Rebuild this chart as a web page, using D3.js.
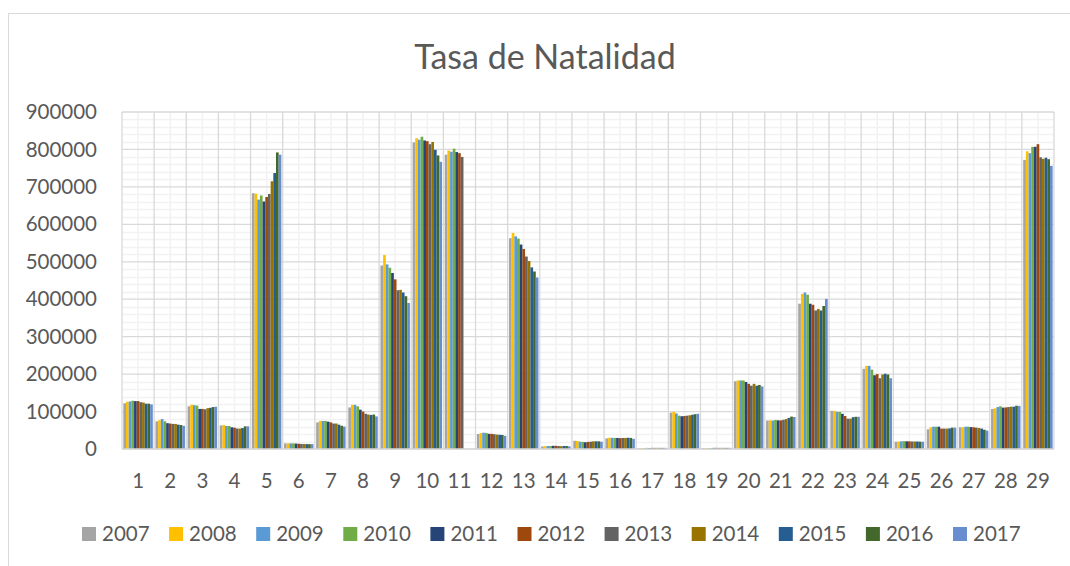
<!DOCTYPE html>
<meta charset="utf-8">
<head>
  <title>Tasa de Natalidad</title>
  <script type="text/javascript" src="https://cdn.jsdelivr.net/npm/d3@7/dist/d3.min.js"></script>
  <style>
    body {margin: 0; background: white;}
    text {font-family: Lato, "Open Sans", sans-serif; fill: #595959;}
  </style>
</head>
<body>
<div id="chart"></div>
<script>

// categories and years
var categories = d3.range(1, 30).map(String);
var years = ["2007","2008","2009","2010","2011","2012","2013","2014","2015","2016","2017"];
var colors = ["#A5A5A5","#FFC000","#5B9BD5","#70AD47","#264478","#9E480E","#636363","#997300","#255E91","#43682B","#698ED0"];
var yTicks = [0,100000,200000,300000,400000,500000,600000,700000,800000,900000];

// values per year (one per category)
var v2007 = [122000,74000,114000,63000,683000,15000,71000,111000,490000,819000,786000,40000,563000,7000,22000,28500,2000,97000,2500,181000,76000,388000,102000,214000,19500,52500,58000,107000,772000];
var v2008 = [126000,77000,118000,64000,682000,15000,75000,118000,518000,830000,797000,42500,577000,7500,21500,30000,2000,99000,2500,183000,76500,414000,102000,222000,20000,58000,58000,108500,795000];
var v2009 = [127000,80000,117000,61500,666000,15000,75000,118000,493000,826000,794000,43500,568000,8000,19500,30000,2500,95000,2500,183000,76000,418000,99000,222000,20500,59500,59500,112000,790000];
var v2010 = [129000,74000,116000,61500,677000,15000,75000,114000,484000,834000,802000,43000,562000,8000,19000,29500,3000,89000,2500,183000,77500,412000,99000,212000,21000,59500,59500,114000,807000];
var v2011 = [128000,69000,107000,58000,661000,14500,73000,105000,470000,824000,793000,40500,546000,8500,18000,29500,2500,87500,3000,179000,76500,388000,94000,197000,20500,59500,58500,110500,807000];
var v2012 = [128000,68000,107000,57000,673000,14000,71000,100000,453000,822000,790000,40500,534000,8500,19000,29000,3000,88000,3000,174000,76500,385000,88000,200000,20500,54500,58000,111000,814000];
var v2013 = [125000,67000,106000,54500,681000,13500,68000,94000,424000,814000,780000,39500,514000,8000,19500,29500,3000,89000,3000,169000,78000,370000,81000,189000,20000,54500,57000,112000,779000];
var v2014 = [124000,67000,109000,54500,715000,13500,68000,92000,425000,820000,0,38500,502000,7500,20500,29500,3000,90000,3000,174000,80000,374000,81000,199000,20000,54500,56000,113000,775000];
var v2015 = [121000,65000,110000,56000,737000,13000,65000,91000,418000,799000,0,38000,485000,8000,20500,30000,3000,91500,3000,169000,83000,370000,85000,201000,20000,55000,54500,113000,778000];
var v2016 = [121000,64000,112000,60500,792000,13000,62000,92000,408000,784000,0,37500,474000,8000,20500,29500,3000,93000,3000,171000,86500,382000,86000,199000,19500,57000,51500,115500,774000];
var v2017 = [119000,62000,113000,60500,786000,13000,60000,87000,390000,767000,0,35000,458000,7000,19500,27000,3000,94000,3000,167000,85500,401000,86000,189000,19500,57000,49000,115000,756000];

var seriesValues = [v2007,v2008,v2009,v2010,v2011,v2012,v2013,v2014,v2015,v2016,v2017];

// build rows for drawing
var rows = [];
years.forEach(function(y, i){
    categories.forEach(function(c, j){
        rows.push({year: y, cat: c, value: seriesValues[i][j], color: colors[i]});
    });
});

var width = 1070, height = 566;
var plot = {left: 122, right: 1054, top: 112, bottom: 449};

var svg = d3.select("#chart").append("svg")
    .attr("width", width)
    .attr("height", height);

svg.append("rect").attr("width", width).attr("height", height).attr("fill", "white");

// chart frame (runs off to the right and bottom)
svg.append("rect")
    .attr("x", 8.5).attr("y", 13.5)
    .attr("width", width + 20).attr("height", height + 20)
    .attr("fill", "none")
    .attr("stroke", "#d9d9d9")
    .attr("stroke-width", 1);

// title
svg.append("text")
    .attr("x", 545)
    .attr("y", 69)
    .attr("text-anchor", "middle")
    .style("font-size", "34px")
    .text("Tasa de Natalidad");

// scales
var x0 = d3.scaleBand().domain(categories).range([plot.left, plot.right]).padding(0);
var x1 = d3.scaleBand().domain(years).range([0, x0.bandwidth()]).paddingInner(0).paddingOuter(0.5);
var y = d3.scaleLinear().domain([0, 900000]).range([plot.bottom, plot.top]);

// minor horizontal gridlines
svg.append("g").selectAll("line")
    .data(d3.range(20000, 900000, 20000).filter(function(d){ return d % 100000 != 0; }))
    .enter().append("line")
    .attr("x1", plot.left).attr("x2", plot.right)
    .attr("y1", function(d){ return Math.round(y(d)) + 0.5; })
    .attr("y2", function(d){ return Math.round(y(d)) + 0.5; })
    .attr("stroke", "#f2f2f2").attr("stroke-width", 1.5);

// minor vertical gridlines (category centres)
svg.append("g").selectAll("line")
    .data(categories)
    .enter().append("line")
    .attr("x1", function(d){ return x0(d) + x0.bandwidth()/2; })
    .attr("x2", function(d){ return x0(d) + x0.bandwidth()/2; })
    .attr("y1", plot.top).attr("y2", plot.bottom)
    .attr("stroke", "#f2f2f2").attr("stroke-width", 1.5);

// major horizontal gridlines
svg.append("g").selectAll("line")
    .data(yTicks)
    .enter().append("line")
    .attr("x1", plot.left).attr("x2", plot.right)
    .attr("y1", function(d){ return y(d); })
    .attr("y2", function(d){ return y(d); })
    .attr("stroke", "#d9d9d9").attr("stroke-width", 1.3);

// major vertical gridlines (category boundaries)
svg.append("g").selectAll("line")
    .data(categories.concat(["end"]))
    .enter().append("line")
    .attr("x1", function(d){ return d == "end" ? plot.right : x0(d); })
    .attr("x2", function(d){ return d == "end" ? plot.right : x0(d); })
    .attr("y1", plot.top).attr("y2", plot.bottom)
    .attr("stroke", "#d9d9d9").attr("stroke-width", 1.3);

// bars
svg.append("g").selectAll("rect")
    .data(rows.filter(function(d){ return d.value > 0; }))
    .enter().append("rect")
    .attr("x", function(d){ return x0(d.cat) + x1(d.year); })
    .attr("width", x1.bandwidth())
    .attr("y", function(d){ return y(d.value); })
    .attr("height", function(d){ return y(0) - y(d.value); })
    .attr("fill", function(d){ return d.color; });

// baseline
svg.append("line")
    .attr("x1", plot.left).attr("x2", plot.right)
    .attr("y1", y(0)).attr("y2", y(0))
    .attr("stroke", "#d9d9d9").attr("stroke-width", 1.5);

// y axis labels
var yAxis = d3.axisLeft(y).tickValues(yTicks).tickFormat(d3.format("d")).tickSize(0).tickPadding(0);
var gy = svg.append("g")
    .attr("transform", "translate(" + (plot.left - 25) + ",0)")
    .call(yAxis);
gy.select(".domain").remove();
gy.selectAll("text").style("font-size", "20.5px").style("font-family", "Lato").attr("fill", "#595959");

// x axis labels
var xAxis = d3.axisBottom(x0).tickSize(0).tickPadding(0);
var gx = svg.append("g")
    .attr("transform", "translate(0," + (plot.bottom + 24) + ")")
    .call(xAxis);
gx.select(".domain").remove();
gx.selectAll("text").style("font-size", "20.5px").style("font-family", "Lato").attr("fill", "#595959");

// legend
var legend = svg.append("g").selectAll("g")
    .data(years)
    .enter().append("g")
    .attr("transform", function(d, i){ return "translate(" + (82 + i*87.1) + ",527)"; });

legend.append("rect")
    .attr("width", 14).attr("height", 14)
    .attr("fill", function(d, i){ return colors[i]; });

legend.append("text")
    .attr("x", 20).attr("y", 14)
    .style("font-size", "20.5px")
    .text(function(d){ return d; });

</script>
</body>
</html>
